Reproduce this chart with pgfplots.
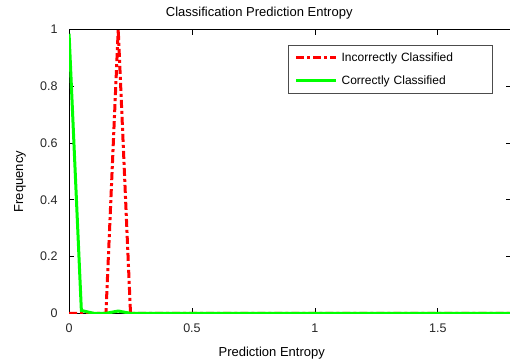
\documentclass[border=0pt]{standalone}
\usepackage{fontspec}
\setmainfont{Liberation Sans}
\usepackage{pgfplots}
\pgfplotsset{compat=1.18}
\begin{document}
\begin{tikzpicture}
\begin{axis}[
  name=ax,
  scale only axis,
  width=442bp, height=283.5bp,
  xmin=0, xmax=1.8, ymin=0, ymax=1,
  xtick={0,0.5,1,1.5}, ytick={0,0.2,0.4,0.6,0.8,1},
  tick align=inside, tick pos=both,
  major tick length=5bp,
  every tick/.style={black, line width=0.6bp},
  axis line style={black, line width=0.6bp},
  /pgf/number format/assume math mode=true,
  tick label style={font=\fontsize{12.5bp}{14bp}\selectfont, text=black!85},
  xticklabel style={yshift=-7bp},
  yticklabel style={xshift=-8bp},
  legend style={at={(rel axis cs:0.4955,0.9453)}, anchor=north west,
    draw=black!70, line width=0.6bp, fill=white,
    inner xsep=6bp, inner ysep=6.5bp, column sep=4bp, row sep=11bp,
    font=\fontsize{12bp}{14bp}\selectfont,
    nodes={inner sep=0pt, text height=10bp, text depth=2bp, text width=145bp, align=left}},
  legend cell align=left,
  legend image code/.code={\draw[#1] (0bp,0bp) -- (40bp,0bp);},
  clip=true,
]
\addplot[red, line width=3bp, dash pattern=on 8bp off 3bp on 3bp off 3bp] coordinates {
(0,0) (0.05,0) (0.1,0) (0.15,0) (0.2,1) (0.25,0) (0.3,0) (0.35,0) (0.4,0) (0.45,0) (0.5,0)
(0.6,0) (0.7,0) (0.8,0) (0.9,0) (1,0) (1.2,0) (1.4,0) (1.6,0) (1.8,0) (2,0)};
\addlegendentry{Incorrectly Classified}
\addplot[color={rgb,255:red,0;green,255;blue,0}, line width=3bp] coordinates {
(0,0.985) (0.05,0.01) (0.1,0) (0.15,0) (0.2,0.008) (0.25,0) (0.3,0) (0.35,0) (0.4,0) (0.45,0) (0.5,0)
(0.6,0) (0.7,0) (0.8,0) (0.9,0) (1,0) (1.2,0) (1.4,0) (1.6,0) (1.8,0) (2,0)};
\addlegendentry{Correctly Classified}
\end{axis}
\node[anchor=base, font=\fontsize{13bp}{15bp}\selectfont] at ([xshift=190bp, yshift=13bp]ax.north west) {Classification Prediction Entropy};
\node[anchor=base, font=\fontsize{13bp}{15bp}\selectfont] at ([xshift=202.5bp, yshift=-43bp]ax.south west) {Prediction Entropy};
\node[anchor=base, rotate=90, font=\fontsize{13bp}{15bp}\selectfont] at ([xshift=-46bp, yshift=131.5bp]ax.south west) {Frequency};
\pgfresetboundingbox
\path[use as bounding box] ([xshift=-69bp, yshift=-49bp]ax.south west) rectangle ([xshift=-1.5bp, yshift=29.5bp]ax.north east);
\end{tikzpicture}
\end{document}
